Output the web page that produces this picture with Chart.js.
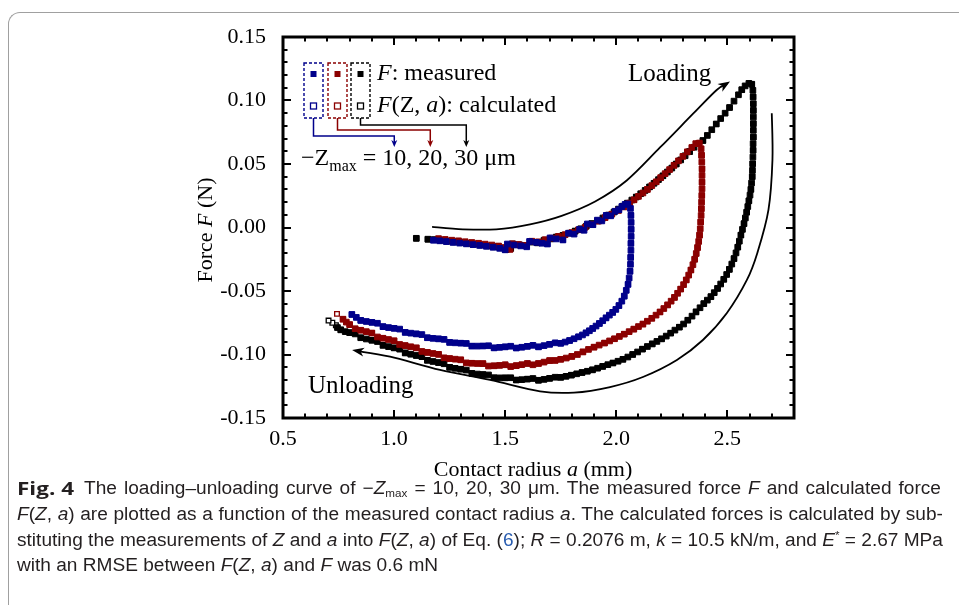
<!DOCTYPE html>
<html>
<head>
<meta charset="utf-8">
<script src="https://cdn.jsdelivr.net/npm/chart.js@4.4.1/dist/chart.umd.min.js"></script>
<style>
html,body{margin:0;padding:0;background:#fff;width:959px;height:605px;overflow:hidden;}
#wrap{position:relative;width:959px;height:605px;}
#border{position:absolute;left:8px;top:12px;width:980px;height:620px;border-top:1px solid #a0a0a0;border-left:1px solid #a0a0a0;border-top-left-radius:12px;}
#c{position:absolute;left:0;top:0;}
.cap{position:absolute;font-family:"Liberation Sans Narrow","Liberation Sans","Roboto",sans-serif;font-size:18px;line-height:20px;color:#231f20;white-space:nowrap;transform-origin:0 0;display:inline-block;}
.cap sub{font-size:11px;line-height:0;vertical-align:-3px;}
.cap sup{font-size:11px;line-height:0;vertical-align:7px;}
.fig{font-family:"Open Sans","Liberation Sans",sans-serif;font-weight:bold;}
.lnk{color:#2a5db0;}
</style>
</head>
<body>
<div id="wrap">
<div id="border"></div>
<canvas id="c" width="959" height="605"></canvas>
<div class="cap fig" id="l0" style="left:17px;top:478px;">Fig. 4</div>
<div class="cap" id="l1" style="left:84px;top:478px;">The loading–unloading curve of −<i>Z</i><sub>max</sub> = 10, 20, 30 μm. The measured force <i>F</i> and calculated force</div>
<div class="cap" id="l2" style="left:17px;top:504px;"><i>F</i>(<i>Z</i>, <i>a</i>) are plotted as a function of the measured contact radius <i>a</i>. The calculated forces is calculated by sub-</div>
<div class="cap" id="l3" style="left:17px;top:530px;">stituting the measurements of <i>Z</i> and <i>a</i> into <i>F</i>(<i>Z</i>, <i>a</i>) of Eq. (<span class="lnk">6</span>); <i>R</i> = 0.2076 m, <i>k</i> = 10.5 kN/m, and <i>E</i><sup>*</sup> = 2.67 MPa</div>
<div class="cap" id="l4" style="left:17px;top:555px;">with an RMSE between <i>F</i>(<i>Z</i>, <i>a</i>) and <i>F</i> was 0.6 mN</div>
</div>
<script>
// ---------------- DATA ----------------
const xTickValues = [0.5, 1.0, 1.5, 2.0, 2.5];
const yTickValues = [-0.15, -0.10, -0.05, 0.00, 0.05, 0.10, 0.15];
const seriesLabels = ['-Zmax = 10 μm', '-Zmax = 20 μm', '-Zmax = 30 μm'];

// contact radius a (mm), force F (N) : measured, -Zmax = 10 um
const blueMeasured = [
[1.177,-0.0100],[1.205,-0.0105],[1.235,-0.0111],[1.265,-0.0117],[1.295,-0.0123],[1.325,-0.0129],[1.355,-0.0135],[1.385,-0.0141],
[1.415,-0.0148],[1.445,-0.0155],[1.475,-0.0164],[1.500,-0.0176],[1.510,-0.0130],[1.540,-0.0138],[1.570,-0.0145],[1.597,-0.0152],
[1.610,-0.0110],[1.640,-0.0117],[1.665,-0.0124],[1.690,-0.0130],[1.702,-0.0082],[1.730,-0.0090],[1.760,-0.0098],[1.785,-0.0045],
[1.810,-0.0052],[1.835,-0.0015],[1.855,-0.0022],[1.870,0.0028],[1.895,0.0022],[1.915,0.0058],[1.935,0.0052],[1.955,0.0095],
[1.975,0.0092],[1.995,0.0128],[2.012,0.0140],[2.025,0.0165],[2.040,0.0182],[2.052,0.0186],
[2.064,0.0150],[2.066,0.0095],[2.067,0.0040],[2.067,-0.0015],[2.067,-0.0070],[2.066,-0.0125],[2.066,-0.0180],[2.065,-0.0235],
[2.064,-0.0290],[2.062,-0.0345],[2.058,-0.0398],[2.053,-0.0448],[2.045,-0.0495],[2.036,-0.0540],[2.025,-0.0580],[2.012,-0.0615],
[1.998,-0.0645],[1.984,-0.0668],[1.969,-0.0690],[1.954,-0.0712],[1.939,-0.0734],[1.924,-0.0756],[1.909,-0.0776],[1.894,-0.0795],
[1.879,-0.0813],[1.864,-0.0830],[1.848,-0.0846],[1.830,-0.0861],[1.810,-0.0876],[1.790,-0.0890],[1.770,-0.0902],[1.750,-0.0912],
[1.725,-0.0908],[1.700,-0.0920],[1.675,-0.0930],[1.650,-0.0940],[1.625,-0.0928],[1.600,-0.0936],[1.575,-0.0943],[1.550,-0.0949],
[1.525,-0.0935],[1.500,-0.0940],[1.475,-0.0944],[1.450,-0.0948],[1.425,-0.0931],[1.400,-0.0933],[1.375,-0.0934],[1.350,-0.0934],
[1.325,-0.0913],[1.300,-0.0911],[1.275,-0.0908],[1.250,-0.0905],[1.225,-0.0881],[1.200,-0.0877],[1.175,-0.0873],[1.150,-0.0868],
[1.125,-0.0843],[1.100,-0.0838],[1.075,-0.0832],[1.050,-0.0826],[1.025,-0.0800],[1.000,-0.0794],[0.975,-0.0788],[0.950,-0.0781],
[0.925,-0.0754],[0.900,-0.0747],[0.875,-0.0740],[0.850,-0.0732],[0.830,-0.0708],[0.810,-0.0685]
];

// measured, -Zmax = 20 um
const redMeasured = [
[1.200,-0.0088],[1.230,-0.0094],[1.260,-0.0100],[1.290,-0.0106],[1.320,-0.0112],[1.350,-0.0118],[1.380,-0.0124],[1.410,-0.0131],
[1.440,-0.0138],[1.470,-0.0146],[1.500,-0.0158],[1.522,-0.0172],[1.532,-0.0128],[1.560,-0.0134],[1.590,-0.0141],[1.620,-0.0108],
[1.650,-0.0114],[1.680,-0.0096],[1.710,-0.0084],[1.740,-0.0070],[1.770,-0.0056],[1.800,-0.0040],[1.830,-0.0018],[1.860,0.0002],
[1.890,0.0025],[1.920,0.0050],[1.950,0.0078],[1.980,0.0105],[2.010,0.0135],[2.035,0.0162],[2.060,0.0192],[2.080,0.0218],
[2.100,0.0245],[2.120,0.0272],[2.140,0.0300],[2.160,0.0330],[2.180,0.0360],[2.200,0.0392],[2.220,0.0424],[2.240,0.0456],
[2.260,0.0490],[2.280,0.0525],[2.300,0.0560],[2.320,0.0595],[2.340,0.0630],[2.358,0.0660],[2.374,0.0665],
[2.382,0.0620],[2.384,0.0568],[2.385,0.0515],[2.386,0.0462],[2.386,0.0410],[2.386,0.0357],[2.386,0.0305],[2.385,0.0252],
[2.384,0.0200],[2.383,0.0148],[2.382,0.0095],[2.380,0.0043],[2.378,-0.0010],[2.375,-0.0060],[2.371,-0.0110],[2.366,-0.0158],
[2.360,-0.0205],[2.353,-0.0250],[2.345,-0.0293],[2.336,-0.0335],[2.326,-0.0375],[2.315,-0.0413],[2.303,-0.0450],[2.290,-0.0485],
[2.276,-0.0518],[2.262,-0.0550],[2.247,-0.0580],[2.231,-0.0610],[2.214,-0.0638],[2.197,-0.0665],[2.179,-0.0690],[2.160,-0.0715],
[2.140,-0.0738],[2.120,-0.0760],[2.100,-0.0780],[2.079,-0.0800],[2.058,-0.0820],[2.036,-0.0840],[2.014,-0.0858],[1.992,-0.0876],
[1.970,-0.0893],[1.947,-0.0910],[1.923,-0.0926],[1.900,-0.0942],[1.875,-0.0960],[1.850,-0.0980],[1.825,-0.1000],[1.800,-0.1015],
[1.775,-0.1028],[1.750,-0.1038],[1.725,-0.1047],[1.700,-0.1048],[1.675,-0.1060],[1.650,-0.1071],[1.625,-0.1081],[1.600,-0.1071],
[1.575,-0.1080],[1.550,-0.1088],[1.525,-0.1095],[1.500,-0.1081],[1.475,-0.1086],[1.450,-0.1089],[1.425,-0.1091],[1.400,-0.1072],
[1.375,-0.1071],[1.350,-0.1069],[1.325,-0.1066],[1.300,-0.1042],[1.275,-0.1037],[1.250,-0.1032],[1.225,-0.1026],[1.200,-0.0999],
[1.175,-0.0992],[1.150,-0.0984],[1.125,-0.0976],[1.100,-0.0948],[1.075,-0.0939],[1.050,-0.0930],[1.025,-0.0921],[1.000,-0.0892],
[0.975,-0.0882],[0.950,-0.0872],[0.925,-0.0862],[0.900,-0.0831],[0.875,-0.0820],[0.850,-0.0809],[0.825,-0.0797],[0.800,-0.0765],
[0.785,-0.0745],[0.770,-0.0722]
];

// measured, -Zmax = 30 um
const blackMeasured = [
[1.100,-0.0085],[1.152,-0.0092],[1.180,-0.0095],[1.210,-0.0101],[1.240,-0.0107],[1.270,-0.0113],[1.300,-0.0119],[1.330,-0.0125],
[1.360,-0.0131],[1.390,-0.0138],[1.420,-0.0145],[1.450,-0.0152],[1.480,-0.0160],[1.505,-0.0172],[1.525,-0.0165],[1.535,-0.0130],
[1.565,-0.0137],[1.595,-0.0143],[1.615,-0.0115],[1.645,-0.0121],[1.675,-0.0100],[1.705,-0.0090],[1.730,-0.0075],[1.760,-0.0062],
[1.790,-0.0045],[1.815,-0.0028],[1.840,-0.0010],[1.865,0.0010],[1.890,0.0030],[1.915,0.0052],[1.940,0.0075],[1.965,0.0098],
[1.990,0.0122],[2.010,0.0145],[2.030,0.0168],[2.050,0.0192],[2.070,0.0216],[2.090,0.0240],[2.110,0.0266],[2.130,0.0292],
[2.150,0.0320],[2.170,0.0348],[2.190,0.0377],[2.210,0.0407],[2.230,0.0437],[2.250,0.0468],[2.270,0.0500],[2.290,0.0532],
[2.310,0.0565],[2.330,0.0598],[2.350,0.0632],[2.370,0.0660],[2.390,0.0685],[2.410,0.0725],[2.430,0.0770],[2.450,0.0815],
[2.470,0.0858],[2.490,0.0900],[2.510,0.0945],[2.530,0.0995],[2.550,0.1045],[2.565,0.1085],[2.580,0.1115],[2.597,0.1135],
[2.610,0.1128],
[2.615,0.1080],[2.616,0.1028],[2.617,0.0975],[2.617,0.0922],[2.617,0.0870],[2.617,0.0818],[2.617,0.0765],[2.617,0.0712],
[2.616,0.0660],[2.616,0.0608],[2.615,0.0555],[2.614,0.0502],[2.613,0.0450],[2.612,0.0400],[2.609,0.0350],[2.606,0.0300],
[2.602,0.0255],[2.597,0.0210],[2.592,0.0165],[2.587,0.0120],[2.581,0.0075],[2.575,0.0030],[2.568,-0.0015],[2.561,-0.0060],
[2.554,-0.0108],[2.547,-0.0155],[2.539,-0.0200],[2.530,-0.0245],[2.520,-0.0288],[2.509,-0.0330],[2.497,-0.0370],[2.484,-0.0408],
[2.470,-0.0445],[2.456,-0.0480],[2.441,-0.0513],[2.426,-0.0545],[2.410,-0.0572],[2.394,-0.0600],[2.377,-0.0632],[2.359,-0.0665],
[2.341,-0.0698],[2.322,-0.0730],[2.303,-0.0760],[2.284,-0.0785],[2.264,-0.0808],[2.245,-0.0832],[2.225,-0.0855],[2.204,-0.0877],
[2.183,-0.0897],[2.162,-0.0917],[2.140,-0.0937],[2.118,-0.0958],[2.096,-0.0980],[2.074,-0.1000],[2.052,-0.1020],[2.030,-0.1038],
[2.008,-0.1053],[1.985,-0.1067],[1.962,-0.1080],[1.939,-0.1094],[1.916,-0.1108],[1.893,-0.1121],[1.870,-0.1132],[1.846,-0.1142],
[1.822,-0.1152],[1.798,-0.1163],[1.774,-0.1172],[1.750,-0.1180],[1.725,-0.1179],[1.700,-0.1188],[1.675,-0.1196],[1.650,-0.1203],
[1.625,-0.1189],[1.600,-0.1194],[1.575,-0.1198],[1.550,-0.1201],[1.525,-0.1183],[1.500,-0.1184],[1.475,-0.1184],[1.450,-0.1183],
[1.425,-0.1161],[1.400,-0.1158],[1.375,-0.1154],[1.350,-0.1149],[1.325,-0.1123],[1.300,-0.1116],[1.275,-0.1109],[1.250,-0.1101],
[1.225,-0.1073],[1.200,-0.1064],[1.175,-0.1055],[1.150,-0.1046],[1.125,-0.1017],[1.100,-0.1008],[1.075,-0.0998],[1.050,-0.0988],
[1.025,-0.0958],[1.000,-0.0948],[0.975,-0.0938],[0.950,-0.0928],[0.925,-0.0898],[0.900,-0.0888],[0.875,-0.0878],[0.850,-0.0868],
[0.825,-0.0838],[0.800,-0.0828],[0.780,-0.0820],[0.760,-0.0806],[0.745,-0.0788]
];

// calculated F(Z, a)
const blueCalculated = [
[1.177,-0.0101],[1.265,-0.0116],[1.355,-0.0134],[1.445,-0.0156],[1.500,-0.0175],[1.540,-0.0137],[1.610,-0.0111],[1.690,-0.0129],
[1.760,-0.0097],[1.835,-0.0016],[1.895,0.0021],[1.955,0.0094],[2.012,0.0141],[2.052,0.0185],[2.066,0.0096],[2.067,-0.0014],
[2.066,-0.0124],[2.065,-0.0236],[2.062,-0.0344],[2.053,-0.0447],[2.036,-0.0541],[2.012,-0.0614],[1.984,-0.0669],[1.954,-0.0711],
[1.924,-0.0755],[1.894,-0.0796],[1.864,-0.0829],[1.830,-0.0860],[1.790,-0.0889],[1.750,-0.0911],[1.700,-0.0919],[1.650,-0.0939],
[1.600,-0.0935],[1.550,-0.0948],[1.500,-0.0939],[1.450,-0.0947],[1.400,-0.0932],[1.350,-0.0933],[1.300,-0.0910],[1.250,-0.0904],
[1.200,-0.0876],[1.150,-0.0867],[1.100,-0.0837],[1.050,-0.0825],[1.000,-0.0793],[0.950,-0.0780],[0.900,-0.0746],[0.850,-0.0731],
[0.810,-0.0684]
];
const redCalculated = [
[1.200,-0.0089],[1.290,-0.0105],[1.380,-0.0125],[1.470,-0.0145],[1.522,-0.0171],[1.560,-0.0135],[1.650,-0.0113],[1.740,-0.0071],
[1.830,-0.0019],[1.920,0.0051],[2.010,0.0134],[2.080,0.0219],[2.140,0.0299],[2.200,0.0393],[2.260,0.0489],[2.320,0.0596],
[2.358,0.0659],[2.384,0.0569],[2.386,0.0461],[2.386,0.0356],[2.385,0.0253],[2.383,0.0149],[2.380,0.0042],[2.375,-0.0061],
[2.366,-0.0157],[2.353,-0.0251],[2.336,-0.0334],[2.315,-0.0414],[2.290,-0.0484],[2.262,-0.0551],[2.231,-0.0609],[2.197,-0.0666],
[2.160,-0.0714],[2.120,-0.0761],[2.079,-0.0801],[2.036,-0.0839],[1.992,-0.0877],[1.947,-0.0909],[1.900,-0.0943],[1.850,-0.0979],
[1.800,-0.1016],[1.750,-0.1037],[1.700,-0.1047],[1.650,-0.1070],[1.600,-0.1070],[1.550,-0.1087],[1.500,-0.1080],[1.450,-0.1088],
[1.400,-0.1071],[1.350,-0.1068],[1.300,-0.1041],[1.250,-0.1031],[1.200,-0.0998],[1.150,-0.0983],[1.100,-0.0947],[1.050,-0.0929],
[1.000,-0.0891],[0.950,-0.0871],[0.900,-0.0830],[0.850,-0.0808],[0.800,-0.0764],[0.770,-0.0723],[0.743,-0.0680]
];
const blackCalculated = [
[1.100,-0.0087],[1.152,-0.0094],[1.240,-0.0108],[1.330,-0.0124],[1.420,-0.0146],[1.505,-0.0171],[1.565,-0.0138],[1.645,-0.0120],
[1.730,-0.0076],[1.815,-0.0029],[1.890,0.0031],[1.965,0.0097],[2.030,0.0167],[2.090,0.0241],[2.150,0.0319],[2.210,0.0406],
[2.270,0.0499],[2.330,0.0597],[2.390,0.0684],[2.450,0.0814],[2.510,0.0944],[2.565,0.1084],[2.610,0.1127],[2.616,0.1029],
[2.617,0.0921],[2.617,0.0817],[2.617,0.0711],[2.616,0.0607],[2.614,0.0503],[2.612,0.0401],[2.606,0.0301],[2.597,0.0211],
[2.587,0.0121],[2.575,0.0031],[2.561,-0.0059],[2.547,-0.0154],[2.530,-0.0244],[2.509,-0.0329],[2.484,-0.0407],[2.456,-0.0479],
[2.426,-0.0544],[2.394,-0.0599],[2.359,-0.0664],[2.322,-0.0729],[2.284,-0.0784],[2.245,-0.0831],[2.204,-0.0876],[2.162,-0.0916],
[2.118,-0.0957],[2.074,-0.0999],[2.030,-0.1037],[1.985,-0.1066],[1.939,-0.1093],[1.893,-0.1120],[1.846,-0.1141],[1.798,-0.1162],
[1.750,-0.1179],[1.700,-0.1187],[1.650,-0.1202],[1.600,-0.1193],[1.550,-0.1200],[1.500,-0.1183],[1.450,-0.1182],[1.400,-0.1157],
[1.350,-0.1148],[1.300,-0.1115],[1.250,-0.1100],[1.200,-0.1063],[1.150,-0.1045],[1.100,-0.1007],[1.050,-0.0987],[1.000,-0.0947],
[0.950,-0.0927],[0.900,-0.0887],[0.850,-0.0867],[0.800,-0.0827],[0.760,-0.0805],[0.738,-0.0770],[0.722,-0.0750],[0.705,-0.0733]
];

// annotation arrows, in data units (a in mm, F in N)
const loadingArrowPath = [[1.171,0.0005],[1.31,-0.0014],[1.46,-0.0014],[1.612,0.0025],[1.754,0.0092],[1.905,0.0205],[2.047,0.0370],[2.197,0.0630],[2.347,0.0898],[2.452,0.1083],[2.512,0.1150]];
const unloadingArrowPath = [[2.700,0.0900],[2.703,0.0531],[2.685,0.0138],[2.635,-0.0200],[2.588,-0.0413],[2.498,-0.0673],[2.390,-0.0886],[2.273,-0.1043],[2.120,-0.1177],[1.972,-0.1256],[1.810,-0.1300],[1.657,-0.1290],[1.432,-0.1200],[1.207,-0.1122],[0.982,-0.1017],[0.811,-0.0965]];

// ---------------- STYLE / DRAWING ----------------
const COLORS = ['#00008b', '#8b0000', '#000000'];
const SERIF = '"Liberation Serif","Times New Roman",serif';
const toXY = arr => arr.map(p => ({x: p[0], y: p[1]}));

function fontFor(s, size) {
  const sz = s.sub ? Math.round(size * 0.68) : size;
  return (s.it ? 'italic ' : '') + sz + 'px ' + SERIF;
}
function drawRich(ctx, segs, x, y, size, align) {
  let w = 0;
  for (const s of segs) { ctx.font = fontFor(s, size); w += ctx.measureText(s.t).width; }
  let cx = align === 'center' ? x - w / 2 : x;
  const centers = {};
  for (const s of segs) {
    ctx.font = fontFor(s, size);
    const sw = ctx.measureText(s.t).width;
    ctx.fillText(s.t, cx, y + (s.sub ? size * 0.25 : 0));
    if (s.tag !== undefined) centers[s.tag] = cx + sw / 2;
    cx += sw;
  }
  return centers;
}
function arrowHead(ctx, tip, from, len, half) {
  const dx = tip[0] - from[0], dy = tip[1] - from[1];
  const d = Math.hypot(dx, dy) || 1, ux = dx / d, uy = dy / d;
  ctx.beginPath();
  ctx.moveTo(tip[0], tip[1]);
  ctx.lineTo(tip[0] - ux * len - uy * half, tip[1] - uy * len + ux * half);
  ctx.lineTo(tip[0] - ux * len * 0.72, tip[1] - uy * len * 0.72);
  ctx.lineTo(tip[0] - ux * len + uy * half, tip[1] - uy * len - ux * half);
  ctx.closePath();
  ctx.fill();
}
function smoothCurve(ctx, pts) {
  ctx.beginPath();
  ctx.moveTo(pts[0][0], pts[0][1]);
  for (let i = 0; i < pts.length - 1; i++) {
    const p0 = pts[i - 1] || pts[i], p1 = pts[i], p2 = pts[i + 1], p3 = pts[i + 2] || p2;
    ctx.bezierCurveTo(p1[0] + (p2[0] - p0[0]) / 6, p1[1] + (p2[1] - p0[1]) / 6,
                      p2[0] - (p3[0] - p1[0]) / 6, p2[1] - (p3[1] - p1[1]) / 6, p2[0], p2[1]);
  }
  ctx.stroke();
}

const framePlugin = {
  id: 'frameTicks',
  afterDraw(chart) {
    const {ctx, chartArea: a, scales: {x, y}} = chart;
    ctx.save();
    ctx.strokeStyle = '#000';
    ctx.lineWidth = 2;
    const seg = (x1, y1, x2, y2) => { ctx.beginPath(); ctx.moveTo(x1, y1); ctx.lineTo(x2, y2); ctx.stroke(); };
    const xMinorStep = 0.1, yMinorStep = 0.01;
    for (let k = 0; ; k++) {
      const v = x.min + k * xMinorStep;
      if (v > x.max + 1e-9) break;
      const major = xTickValues.some(t => Math.abs(t - v) < 1e-6);
      const L = major ? 8 : 4.5;
      const p = Math.round(x.getPixelForValue(v));
      seg(p, a.bottom, p, a.bottom - L);
      seg(p, a.top, p, a.top + L);
    }
    for (let k = 0; ; k++) {
      const v = y.min + k * yMinorStep;
      if (v > y.max + 1e-9) break;
      const major = yTickValues.some(t => Math.abs(t - v) < 1e-6);
      const L = major ? 8 : 4.5;
      const p = Math.round(y.getPixelForValue(v));
      seg(a.left, p, a.left + L, p);
      seg(a.right, p, a.right - L, p);
    }
    ctx.lineWidth = 3;
    ctx.strokeRect(a.left, a.top, a.right - a.left, a.bottom - a.top);
    ctx.restore();
  }
};

const annotationPlugin = {
  id: 'annotations',
  afterDraw(chart) {
    const {ctx, chartArea: a, scales: {x, y}} = chart;
    const px = p => [x.getPixelForValue(p[0]), y.getPixelForValue(p[1])];
    ctx.save();
    ctx.fillStyle = '#000';
    ctx.textBaseline = 'alphabetic';

    // axis titles
    ctx.save();
    ctx.translate(204, 230);
    ctx.rotate(-Math.PI / 2);
    drawRich(ctx, [{t: 'Force '}, {t: 'F', it: true}, {t: ' (N)'}], 0, 8, 22, 'center');
    ctx.restore();
    drawRich(ctx, [{t: 'Contact radius '}, {t: 'a', it: true}, {t: ' (mm)'}], 533, 476, 22, 'center');

    // loading / unloading arrows
    ctx.strokeStyle = '#000'; ctx.lineWidth = 1.8;
    const lp = loadingArrowPath.map(px);
    smoothCurve(ctx, lp.slice(0, -1).concat([[lp[lp.length - 1][0] - 3, lp[lp.length - 1][1] + 2.5]]));
    arrowHead(ctx, lp[lp.length - 1], lp[lp.length - 2], 12, 4.5);
    const up = unloadingArrowPath.map(px);
    smoothCurve(ctx, up.slice(0, -1).concat([[up[up.length - 1][0] + 4, up[up.length - 1][1] + 0.8]]));
    arrowHead(ctx, up[up.length - 1], up[up.length - 2], 12, 4.5);
    drawRich(ctx, [{t: 'Loading'}], a.left + 345, a.top + 44, 25, 'left');
    drawRich(ctx, [{t: 'Unloading'}], a.left + 25, a.top + 356, 25, 'left');

    // legend
    const boxLeft = [21, 45, 68], boxW = 19, boxTop = 26, boxH = 55;
    for (let i = 0; i < 3; i++) {
      const bx = a.left + boxLeft[i], cx = bx + boxW / 2;
      ctx.strokeStyle = COLORS[i]; ctx.fillStyle = COLORS[i];
      ctx.lineWidth = 1.4; ctx.setLineDash([3, 2]);
      ctx.strokeRect(bx, a.top + boxTop, boxW, boxH);
      ctx.setLineDash([]);
      ctx.fillRect(cx - 3, a.top + boxTop + 8, 6, 6);
      ctx.fillStyle = '#fff'; ctx.lineWidth = 1.3;
      ctx.fillRect(cx - 3, a.top + boxTop + 40, 6, 6);
      ctx.strokeRect(cx - 3, a.top + boxTop + 40, 6, 6);
    }
    ctx.fillStyle = '#000';
    drawRich(ctx, [{t: 'F', it: true}, {t: ': measured'}], a.left + 94, a.top + 43, 24, 'left');
    drawRich(ctx, [{t: 'F', it: true}, {t: '(Z, '}, {t: 'a', it: true}, {t: '): calculated'}], a.left + 94, a.top + 75, 24, 'left');
    const centers = drawRich(ctx, [{t: '\u2212Z'}, {t: 'max', sub: true}, {t: ' = '}, {t: '10', tag: 0}, {t: ', '}, {t: '20', tag: 1}, {t: ', '}, {t: '30', tag: 2}, {t: ' \u03bcm'}],
      a.left + 18, a.top + 128, 24, 'left');
    const elbow = [99, 93, 88];
    for (let i = 0; i < 3; i++) {
      const cx = a.left + boxLeft[i] + boxW / 2, ey = a.top + elbow[i], tx = centers[i], tipY = a.top + 110;
      ctx.strokeStyle = COLORS[i]; ctx.fillStyle = COLORS[i]; ctx.lineWidth = 1.5;
      ctx.beginPath();
      ctx.moveTo(cx, a.top + boxTop + boxH);
      ctx.lineTo(cx, ey); ctx.lineTo(tx, ey); ctx.lineTo(tx, tipY - 5);
      ctx.stroke();
      arrowHead(ctx, [tx, tipY], [tx, ey], 7, 3);
    }
    ctx.restore();
  }
};

function measuredSet(label, arr, color) {
  return {label, data: toXY(arr), pointStyle: 'rect', pointRadius: 4.0, pointBorderWidth: 1,
    backgroundColor: color, borderColor: color, pointBackgroundColor: color, pointBorderColor: color};
}
function calculatedSet(label, arr, color) {
  return {label, data: toXY(arr), pointStyle: 'rect', pointRadius: 3.3, pointBorderWidth: 1.3,
    backgroundColor: '#fff', borderColor: color, pointBackgroundColor: '#fff', pointBorderColor: color};
}

const tickFont = {family: SERIF, size: 22};
new Chart(document.getElementById('c'), {
  type: 'scatter',
  data: {
    datasets: [
      measuredSet('F measured ' + seriesLabels[0], blueMeasured, COLORS[0]),
      measuredSet('F measured ' + seriesLabels[1], redMeasured, COLORS[1]),
      measuredSet('F measured ' + seriesLabels[2], blackMeasured, COLORS[2]),
      calculatedSet('F(Z,a) calculated ' + seriesLabels[0], blueCalculated, COLORS[0]),
      calculatedSet('F(Z,a) calculated ' + seriesLabels[1], redCalculated, COLORS[1]),
      calculatedSet('F(Z,a) calculated ' + seriesLabels[2], blackCalculated, COLORS[2])
    ]
  },
  options: {
    responsive: false, animation: false, devicePixelRatio: 1,
    layout: {padding: {left: 183, right: 165, top: 37, bottom: 127}},
    plugins: {legend: {display: false}, tooltip: {enabled: false}},
    scales: {
      x: {
        type: 'linear', min: 0.5, max: 2.8,
        afterBuildTicks: s => { s.ticks = xTickValues.map(v => ({value: v})); },
        afterFit: s => { s.height = 60; },
        grid: {display: false, drawTicks: false}, border: {display: false},
        ticks: {font: tickFont, color: '#000', padding: 8, maxRotation: 0, autoSkip: false, callback: v => Number(v).toFixed(1)}
      },
      y: {
        type: 'linear', min: -0.15, max: 0.15,
        afterBuildTicks: s => { s.ticks = yTickValues.map(v => ({value: v})); },
        afterFit: s => { s.width = 100; },
        grid: {display: false, drawTicks: false}, border: {display: false},
        ticks: {font: tickFont, color: '#000', padding: 17, autoSkip: false, callback: v => Number(v).toFixed(2)}
      }
    }
  },
  plugins: [framePlugin, annotationPlugin]
});

// caption: one common horizontal condensation chosen so the tightest full line fits,
// the other full lines are justified with word spacing
(function () {
  const fig = document.getElementById('l0');
  fig.style.transform = 'scaleX(' + (57 / fig.getBoundingClientRect().width).toFixed(4) + ')';
  const targets = {l1: 857, l2: 926, l3: 926};
  const natural = {};
  let s = 10;
  for (const id in targets) {
    natural[id] = document.getElementById(id).getBoundingClientRect().width;
    s = Math.min(s, targets[id] / natural[id]);
  }
  for (const id in targets) {
    const el = document.getElementById(id);
    const spaces = (el.textContent.match(/ /g) || []).length;
    const extra = targets[id] / s - natural[id];
    if (spaces > 0 && extra > 0) el.style.wordSpacing = (extra / spaces).toFixed(3) + 'px';
    el.style.transform = 'scaleX(' + s.toFixed(4) + ')';
  }
  document.getElementById('l4').style.transform = 'scaleX(' + s.toFixed(4) + ')';
})();
</script>
</body>
</html>
